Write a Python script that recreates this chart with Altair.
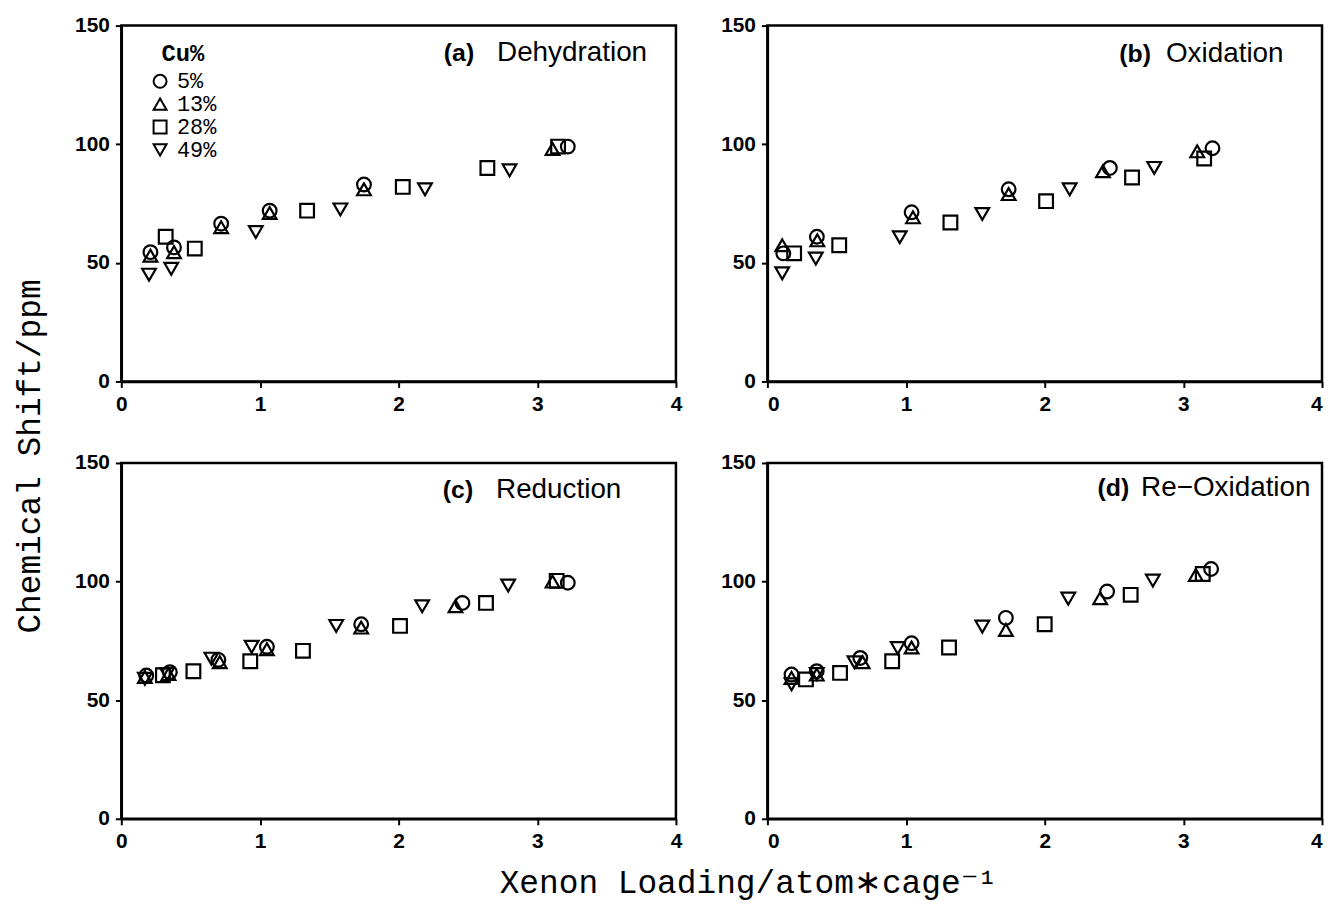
import altair as alt
import pandas as pd

# ---------------- data ----------------
CU_LEVELS = ["5%", "13%", "28%", "49%"]
SHAPES = ["circle", "triangle-up", "square", "triangle-down"]

# (a) Dehydration
A_X_5 = [0.21, 0.38, 0.72, 1.07, 1.75, 3.22]
A_Y_5 = [54.5, 56.5, 66.5, 72.0, 83.0, 99.0]
A_X_13 = [0.21, 0.38, 0.72, 1.07, 1.75, 3.11]
A_Y_13 = [53.0, 54.5, 65.0, 71.0, 81.0, 98.0]
A_X_28 = [0.32, 0.53, 1.34, 2.03, 2.64, 3.15]
A_Y_28 = [61.0, 56.0, 72.0, 82.0, 90.0, 99.0]
A_X_49 = [0.20, 0.36, 0.97, 1.58, 2.19, 2.80]
A_Y_49 = [45.0, 47.5, 63.0, 72.5, 81.0, 89.0]

# (b) Oxidation
B_X_5 = [0.115, 0.357, 1.04, 1.74, 2.47, 3.21]
B_Y_5 = [54.0, 61.0, 71.3, 81.0, 90.0, 98.3]
B_X_13 = [0.107, 0.36, 1.05, 1.74, 2.42, 3.10]
B_Y_13 = [57.4, 59.5, 69.2, 79.0, 88.6, 97.0]
B_X_28 = [0.193, 0.518, 1.32, 2.01, 2.63, 3.15]
B_Y_28 = [54.0, 57.4, 67.0, 76.0, 86.0, 94.0]
B_X_49 = [0.107, 0.349, 0.955, 1.55, 2.18, 2.79]
B_Y_49 = [45.6, 51.8, 60.8, 70.6, 81.0, 90.0]

# (c) Reduction
C_X_5 = [0.18, 0.35, 0.70, 1.05, 1.73, 2.46, 3.22]
C_Y_5 = [60.4, 61.8, 67.0, 72.5, 82.0, 91.0, 99.5]
C_X_13 = [0.17, 0.34, 0.71, 1.05, 1.73, 2.41, 3.11]
C_Y_13 = [59.8, 61.0, 66.0, 71.5, 80.6, 89.6, 100.0]
C_X_28 = [0.30, 0.52, 0.93, 1.31, 2.01, 2.63, 3.14]
C_Y_28 = [60.5, 62.2, 66.4, 70.8, 81.3, 91.0, 100.3]
C_X_49 = [0.17, 0.33, 0.65, 0.94, 1.55, 2.17, 2.79]
C_Y_49 = [59.0, 61.0, 67.5, 72.5, 81.3, 89.6, 98.3]

# (d) Re-Oxidation
D_X_5 = [0.174, 0.356, 0.67, 1.04, 1.72, 2.45, 3.20]
D_Y_5 = [60.8, 62.2, 67.8, 74.0, 84.7, 95.8, 105.3]
D_X_13 = [0.174, 0.356, 0.687, 1.04, 1.72, 2.40, 3.09]
D_Y_13 = [59.4, 60.8, 66.0, 72.2, 79.6, 93.0, 102.8]
D_X_28 = [0.278, 0.524, 0.90, 1.31, 2.00, 2.62, 3.14]
D_Y_28 = [58.75, 61.5, 66.4, 72.2, 82.0, 94.4, 103.2]
D_X_49 = [0.174, 0.356, 0.628, 0.94, 1.55, 2.17, 2.78]
D_Y_49 = [56.7, 61.0, 66.0, 72.0, 81.0, 92.8, 100.4]

PANEL_TAGS = ["(a)", "(b)", "(c)", "(d)"]
PANEL_NAMES = ["Dehydration", "Oxidation", "Reduction", "Re\u2212Oxidation"]
X_TICKS = [0, 1, 2, 3, 4]
Y_TICKS = [0, 50, 100, 150]
X_TITLE = "Xenon Loading/atom\u2217cage\u207b\u00b9"
Y_TITLE = "Chemical Shift/ppm"

# label placement (pixels inside each panel): tag right edge, name left edge, centre y
LABEL_STYLE = [(355, 378, 28), (386, 401, 29), (354, 377, 27), (364, 376, 25)]

W, H = 558, 358
MONO = "Liberation Mono"
SANS = "Liberation Sans"


def make_df(series):
    rows = []
    for cu, (xs, ys) in zip(CU_LEVELS, series):
        for xv, yv in zip(xs, ys):
            rows.append({"x": xv, "y": yv, "cu": cu})
    return pd.DataFrame(rows)


def panel(series, idx, show_legend, right_col):
    df = make_df(series)
    if show_legend:
        legend = alt.Legend(
            title="Cu%", orient="none", legendX=28, legendY=17, padding=0,
            titleFont=MONO, titleFontWeight="bold", titleFontSize=24,
            titleColor="black", titleAnchor="middle", titlePadding=4,
            labelFont=MONO, labelFontSize=22, labelColor="black",
            labelExpr="length(datum.label) < 3 ? '\u00a0' + datum.label : datum.label",
            labelOffset=6, rowPadding=1,
            symbolSize=170, symbolStrokeWidth=2, symbolStrokeColor="black",
            symbolFillColor="transparent",
        )
    else:
        legend = None
    x_axis = alt.Axis(values=X_TICKS, format="d", title=None, labelFlush=right_col)
    pts = alt.Chart(df).mark_point(
        filled=False, color="black", strokeWidth=2.2, size=190, opacity=1
    ).encode(
        x=alt.X("x:Q", scale=alt.Scale(domain=[0, 4], nice=False, zero=False),
                axis=x_axis),
        y=alt.Y("y:Q", scale=alt.Scale(domain=[0, 150], nice=False),
                axis=alt.Axis(values=Y_TICKS, title=None)),
        shape=alt.Shape("cu:N", scale=alt.Scale(domain=CU_LEVELS, range=SHAPES),
                        legend=legend),
    )
    tag_end, name_start, yc = LABEL_STYLE[idx]
    tag = alt.Chart(pd.DataFrame({"t": [PANEL_TAGS[idx]]})).mark_text(
        font=SANS, fontWeight="bold", fontSize=25, align="right",
        baseline="middle", color="black"
    ).encode(x=alt.value(tag_end), y=alt.value(yc), text="t:N")
    name = alt.Chart(pd.DataFrame({"t": [PANEL_NAMES[idx]]})).mark_text(
        font=SANS, fontSize=28, align="left", baseline="middle", color="black"
    ).encode(x=alt.value(name_start), y=alt.value(yc), text="t:N")
    return alt.layer(pts, tag, name).properties(width=W, height=H)


pa = panel([(A_X_5, A_Y_5), (A_X_13, A_Y_13), (A_X_28, A_Y_28), (A_X_49, A_Y_49)], 0, True, False)
pb = panel([(B_X_5, B_Y_5), (B_X_13, B_Y_13), (B_X_28, B_Y_28), (B_X_49, B_Y_49)], 1, False, True)
pc = panel([(C_X_5, C_Y_5), (C_X_13, C_Y_13), (C_X_28, C_Y_28), (C_X_49, C_Y_49)], 2, False, False)
pd_ = panel([(D_X_5, D_Y_5), (D_X_13, D_Y_13), (D_X_28, D_Y_28), (D_X_49, D_Y_49)], 3, False, True)

row1 = alt.hconcat(pa, pb, spacing=35).resolve_scale(shape="independent")
row2 = alt.hconcat(pc, pd_, spacing=35).resolve_scale(shape="independent")
grid = alt.vconcat(row1, row2, spacing=34).resolve_scale(shape="independent").properties(
    title=alt.TitleParams(X_TITLE, orient="bottom", anchor="middle", font=MONO,
                          fontSize=33, fontWeight="normal", color="black",
                          offset=14, dx=50)
)
chart = alt.hconcat(grid).resolve_scale(shape="independent").properties(
    title=alt.TitleParams(Y_TITLE, orient="left", anchor="middle", font=MONO,
                          fontSize=33, fontWeight="normal", color="black",
                          offset=27)
).configure(
    padding={"left": 5, "top": 2, "right": 0, "bottom": 0}
).configure_view(
    stroke="black", strokeWidth=2.5
).configure_axis(
    domainColor="black", domainWidth=2.5, tickColor="black", tickWidth=2,
    tickSize=6, labelFont=SANS, labelFontWeight="bold", labelFontSize=21,
    labelColor="black", labelPadding=6, grid=False
)

chart.save("out.html", embed_options={"renderer": "svg", "actions": False})
